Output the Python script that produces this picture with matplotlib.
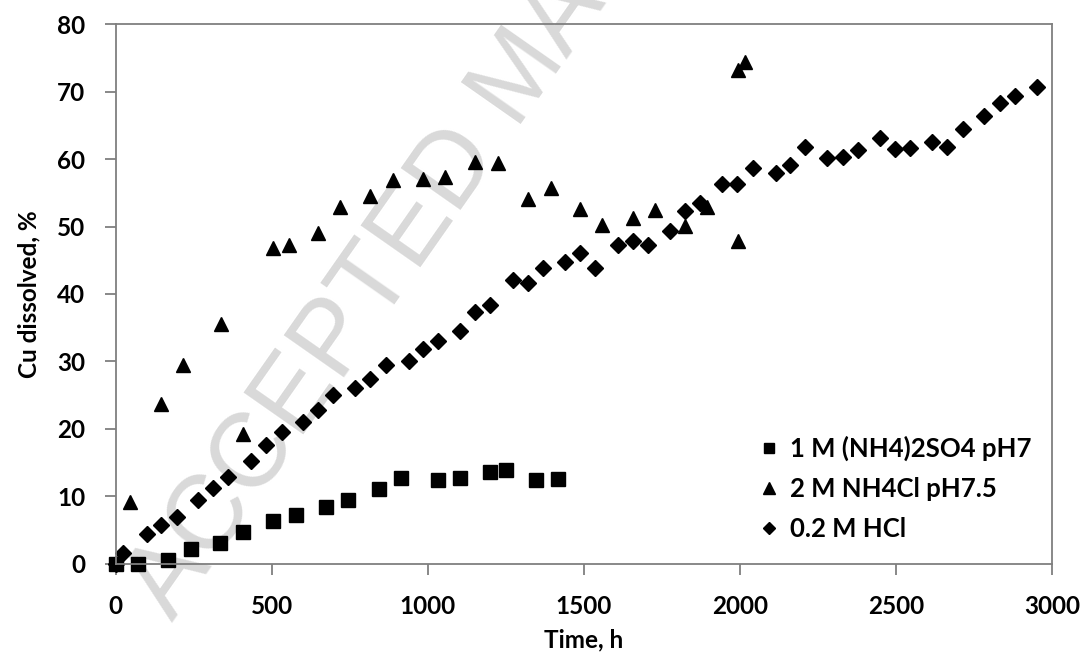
import matplotlib
matplotlib.use("Agg")
import matplotlib.pyplot as plt

# 1 M (NH4)2SO4 pH7
time_sulf = [0, 70, 169, 240, 334, 407, 505, 578, 673, 743, 842, 913, 1032, 1103, 1199, 1249, 1345, 1416]
cu_sulf = [0, 0, 0.6, 2.2, 3.1, 4.7, 6.4, 7.3, 8.4, 9.5, 11.1, 12.8, 12.5, 12.8, 13.7, 13.9, 12.4, 12.6]

# 2 M NH4Cl pH7.5
time_nh4cl = [46, 145, 217, 336, 407, 505, 554, 649, 718, 815, 889, 983, 1055, 1151, 1226, 1322, 1393,
              1487, 1559, 1658, 1728, 1824, 1893, 1994, 1994, 2016]
cu_nh4cl = [9.2, 23.7, 29.5, 35.6, 19.2, 46.8, 47.2, 49.0, 52.9, 54.5, 56.9, 57.1, 57.4, 59.5, 59.4, 54.1, 55.7,
            52.6, 50.2, 51.3, 52.4, 50.1, 52.9, 47.9, 73.2, 74.4]

# 0.2 M HCl
time_hcl = [0, 24, 99, 145, 195, 265, 313, 359, 433, 480, 532, 601, 649, 697, 767, 815, 866, 940, 983, 1033,
            1103, 1151, 1199, 1274, 1322, 1370, 1439, 1487, 1535, 1610, 1658, 1706, 1776, 1824, 1872, 1941,
            1991, 2042, 2115, 2160, 2208, 2277, 2331, 2379, 2448, 2496, 2544, 2614, 2662, 2715, 2782, 2832,
            2880, 2952]
cu_hcl = [0, 1.6, 4.5, 5.7, 7.0, 9.5, 11.2, 12.9, 15.3, 17.7, 19.6, 21.1, 22.8, 25.1, 26.0, 27.4, 29.5, 30.1,
          31.9, 33.0, 34.5, 37.3, 38.4, 42.1, 41.6, 43.8, 44.7, 46.1, 43.8, 47.2, 47.9, 47.2, 49.3, 52.3, 53.5,
          56.3, 56.3, 58.6, 58.0, 59.1, 61.8, 60.1, 60.3, 61.4, 63.1, 61.5, 61.7, 62.5, 61.8, 64.5, 66.3, 68.3,
          69.3, 70.6]

x_ticks = [0, 500, 1000, 1500, 2000, 2500, 3000]
y_ticks = [0, 10, 20, 30, 40, 50, 60, 70, 80]

plt.rcParams['font.family'] = ['Lato', 'DejaVu Sans']
plt.rcParams['font.weight'] = 'bold'
plt.rcParams['axes.labelweight'] = 'bold'

fig = plt.figure(figsize=(10.83, 6.6), dpi=100)
ax = fig.add_axes([0.1068, 0.1455, 0.8649, 0.8181])
ax.set_facecolor('none')

# watermark behind the axes (cut by the top edge, like in the original)
fig.text(0.159, 0.0576, "ACCEPTED MANUSCRIPT", fontsize=75.5, color='#d9d9d9',
         family='Liberation Sans', fontweight='normal', rotation=55,
         rotation_mode='anchor', ha='left', va='baseline', zorder=-1)

ax.plot(time_sulf, cu_sulf, 's', color='black', markersize=9.6, clip_on=False,
        label='1 M (NH4)2SO4 pH7')
ax.plot(time_nh4cl, cu_nh4cl, '^', color='black', markersize=10, clip_on=False,
        label='2 M NH4Cl pH7.5')
ax.plot(time_hcl, cu_hcl, 'D', color='black', markersize=8.2, clip_on=False,
        label='0.2 M HCl')

ax.set_xlim(0, 3000)
ax.set_ylim(0, 80)
ax.set_xticks(x_ticks)
ax.set_yticks(y_ticks)

for s in ax.spines.values():
    s.set_color('#7f7f7f')
    s.set_linewidth(1.3)
ax.tick_params(axis='both', colors='#7f7f7f', length=8, width=1.3, labelcolor='black',
               labelsize=17.5)
ax.tick_params(axis='y', pad=14)
ax.tick_params(axis='x', pad=14)

ax.set_xlabel("Time, h", fontsize=17.5, labelpad=8)
ax.set_ylabel("Cu dissolved, %", fontsize=17.5, labelpad=12)

ax.legend(loc='upper left', bbox_to_anchor=(0.684, 0.247), frameon=False, fontsize=18.5,
          handlelength=0.6, handletextpad=0.5, labelspacing=0.62, borderpad=0.2,
          borderaxespad=0, markerscale=0.8)

fig.savefig("out.png", dpi=100)
